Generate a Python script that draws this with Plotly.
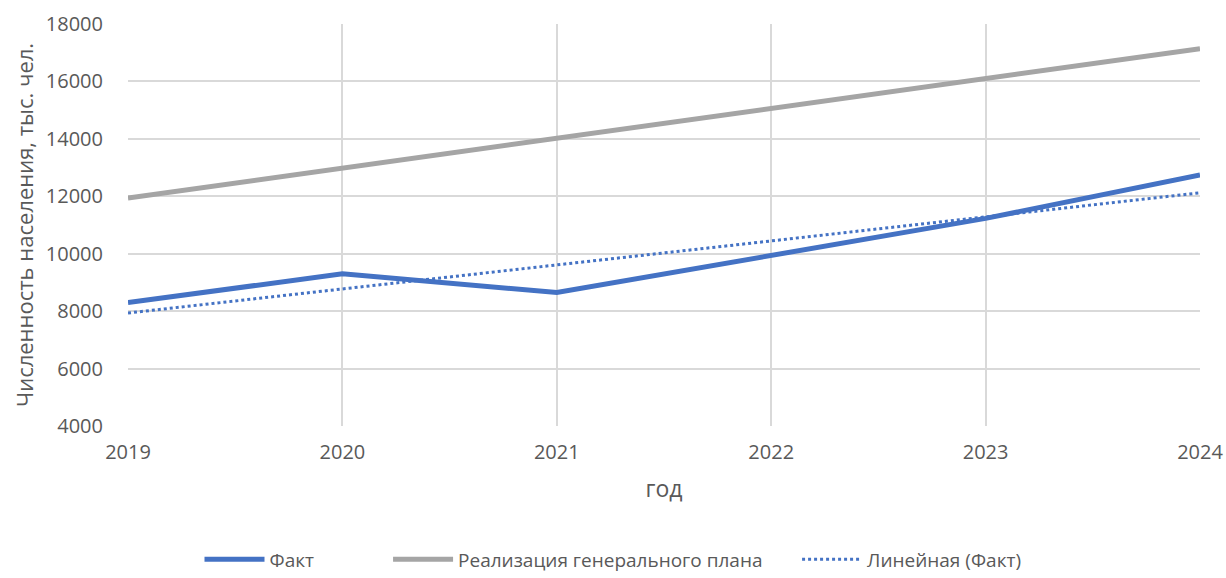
import numpy as np
import plotly.graph_objects as go

years = [2019, 2020, 2021, 2022, 2023, 2024]
fact = [8300, 9300, 8650, 9950, 11230, 12740]
plan = [11940, 12980, 14020, 15060, 16100, 17140]
y_ticks = [4000, 6000, 8000, 10000, 12000, 14000, 16000, 18000]

# linear trendline of the "Факт" series
coef = np.polyfit(years, fact, 1)
trend = [float(np.polyval(coef, y)) for y in years]

FONT = "Open Sans"
GREY = "#595959"
NB = "\u00a0"
fig = go.Figure()
fig.add_trace(go.Scatter(x=years, y=fact, mode="lines", name="Факт" + NB * 14,
                         line=dict(color="#4472C4", width=5)))
fig.add_trace(go.Scatter(x=years, y=plan, mode="lines",
                         name="Реализация генерального плана" + NB * 6,
                         line=dict(color="#A5A5A5", width=5)))
fig.add_trace(go.Scatter(x=years, y=trend, mode="lines", name="Линейная (Факт)",
                         line=dict(color="#4472C4", width=3, dash="dot")))

fig.update_layout(
    width=1226, height=578,
    margin=dict(l=128, r=26, t=24, b=152, autoexpand=False),
    plot_bgcolor="white", paper_bgcolor="white",
    font=dict(family=FONT, size=20, color=GREY),
    showlegend=True,
    legend=dict(orientation="h", xref="container", yref="container",
                x=0.5, xanchor="center", y=0.032, yanchor="middle",
                font=dict(size=19, color=GREY), itemwidth=60,
                traceorder="normal"),
    xaxis=dict(range=[2019, 2024], tickvals=years, showgrid=True,
               gridcolor="#D9D9D9", gridwidth=1.5, zeroline=False, showline=False,
               ticks="outside", ticklen=8, tickcolor="rgba(0,0,0,0)",
               tickfont=dict(size=20, color=GREY),
               title=dict(text="год", font=dict(size=23, color=GREY), standoff=16)),
    yaxis=dict(range=[4000, 18000], tickvals=y_ticks, tickformat="d", showgrid=True,
               gridcolor="#D9D9D9", gridwidth=1.5, zeroline=False, showline=False,
               ticks="outside", ticklen=20, tickcolor="rgba(0,0,0,0)",
               tickfont=dict(size=20, color=GREY),
               title=dict(text="Численность населения, тыс. чел.",
                          font=dict(size=22, color=GREY), standoff=6)),
)

fig.write_html("out.html", config={"displayModeBar": False},
               post_script="document.body.style.margin='0';")
